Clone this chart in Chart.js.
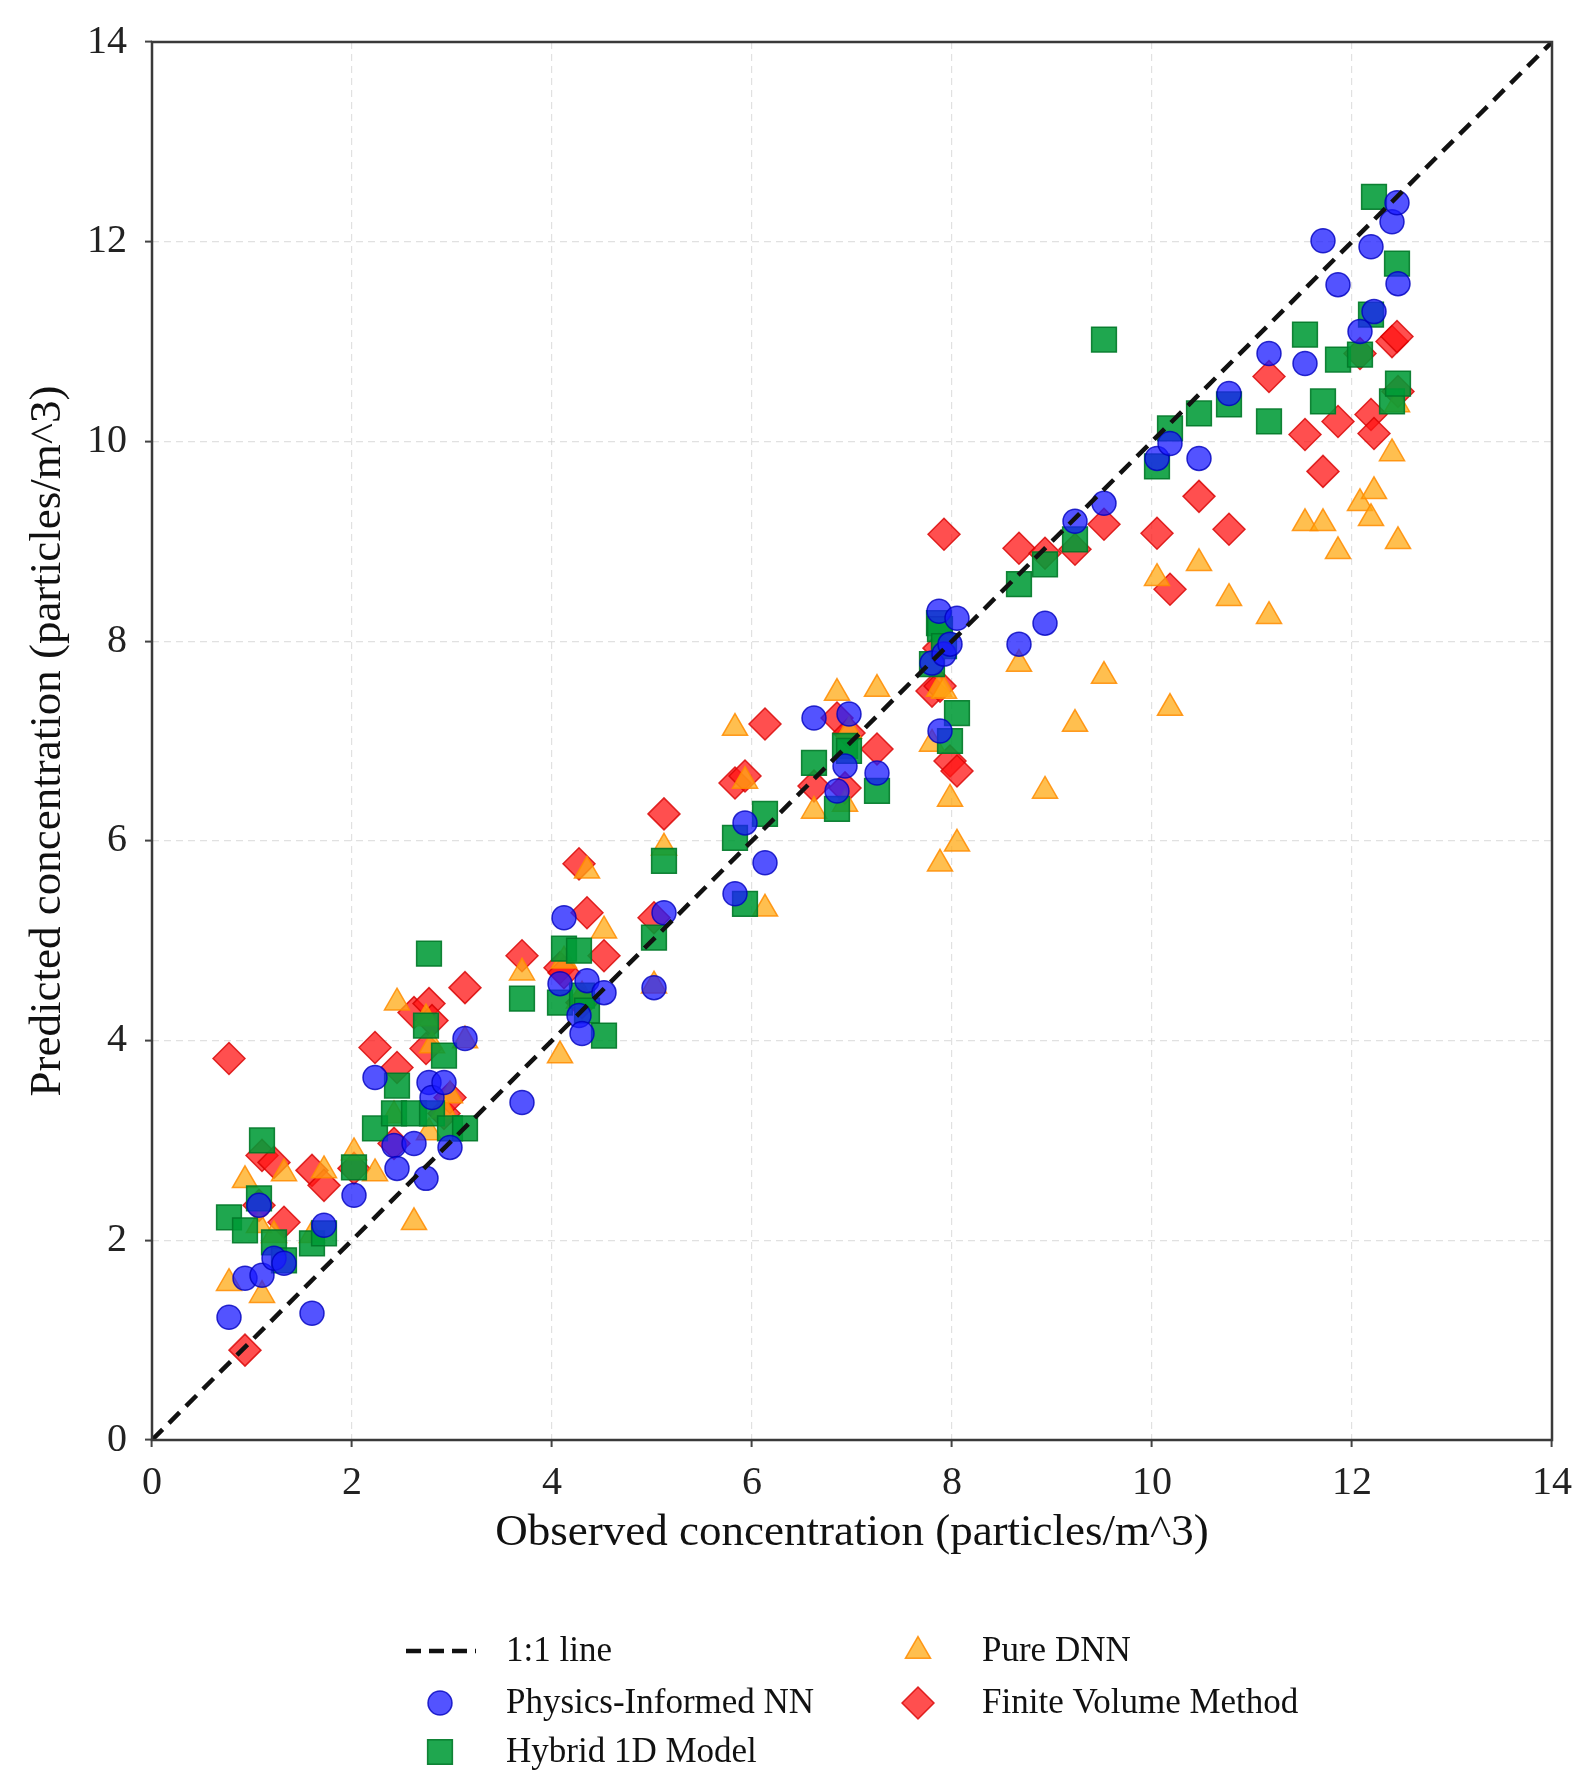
<!DOCTYPE html>
<html>
<head>
<meta charset="utf-8">
<script src="https://cdn.jsdelivr.net/npm/chart.js@4/dist/chart.umd.min.js"></script>
<style>
  html, body { margin: 0; padding: 0; background: #fff; }
  canvas { display: block; }
</style>
</head>
<body>
<canvas id="parity-chart" width="1585" height="1792"></canvas>
<script>
// observed concentration, shared by every model
const observed = [
  0.77, 0.93, 1.07, 1.1, 1.22, 1.32, 1.6, 1.72, 2.02, 2.23,
  2.42, 2.45, 2.62, 2.74, 2.77, 2.8, 2.92, 2.98, 3.13, 3.7,
  4.08, 4.12, 4.27, 4.3, 4.35, 4.52, 5.02, 5.12, 5.83, 5.93,
  6.13, 6.62, 6.85, 6.93, 6.97, 7.25, 7.8, 7.87, 7.88, 7.92,
  7.98, 8.05, 8.67, 8.93, 9.23, 9.52, 10.05, 10.18, 10.47, 10.77,
  11.17, 11.53, 11.71, 11.86, 12.08, 12.19, 12.22, 12.4, 12.45, 12.46,
];

const pinnPred = [
  1.23, 1.62, 2.35, 1.65, 1.82, 1.77, 1.27, 2.15, 2.45, 3.63,
  2.95, 2.72, 2.97, 2.62, 3.58, 3.43, 3.58, 2.93, 4.02, 3.38,
  4.57, 5.23, 4.25, 4.07, 4.6, 4.48, 4.53, 5.28, 5.47, 6.18,
  5.78, 7.23, 6.5, 6.75, 7.27, 6.68, 7.78, 8.3, 7.1, 7.87,
  7.97, 8.23, 7.97, 8.18, 9.2, 9.38, 9.83, 9.98, 9.83, 10.48,
  10.88, 10.78, 12.01, 11.57, 11.1, 11.95, 11.3, 12.2, 12.39, 11.58,
];

const hybridPred = [
  2.23, 2.1, 2.42, 3.0, 1.98, 1.8, 1.97, 2.07, 2.73, 3.12,
  3.27, 3.55, 3.27, 4.15, 4.87, 3.27, 3.85, 3.12, 3.12, 4.42,
  4.38, 4.92, 4.9, 4.45, 4.3, 4.05, 5.03, 5.8, 6.03, 5.37,
  6.27, 6.78, 6.32, 6.95, 6.9, 6.5, 7.77, 8.18, 8.12, 7.95,
  7.0, 7.28, 8.57, 8.77, 9.02, 11.02, 9.75, 10.13, 10.28, 10.37,
  10.2, 11.07, 10.4, 10.82, 10.87, 11.27, 12.45, 10.4, 11.78, 10.58,
];

const dnnPred = [
  1.57, 2.6, 2.15, 1.45, 2.05, 2.67, 2.05, 2.7, 2.88, 2.67,
  3.25, 4.38, 2.18, 4.22, 3.08, 3.95, 3.3, 3.45, 4.0, 4.68,
  3.85, 4.8, 4.4, 4.45, 5.7, 5.1, 4.55, 5.93, 7.13, 6.6,
  5.32, 6.3, 7.48, 6.37, 7.1, 7.52, 6.97, 7.52, 5.77, 7.5,
  6.42, 5.97, 7.77, 6.5, 7.17, 7.65, 8.63, 7.33, 8.78, 8.43,
  8.25, 9.18, 9.18, 8.9, 9.38, 9.23, 9.5, 9.88, 10.37, 9.0,
];

const fvmPred = [
  3.82, 0.9, 2.35, 2.85, 2.78, 2.18, 2.7, 2.55, 2.72, 3.93,
  2.97, 3.73, 4.28, 3.92, 4.37, 4.2, 3.27, 3.43, 4.53, 4.85,
  4.73, 4.68, 5.77, 4.38, 5.28, 4.85, 5.23, 6.27, 6.58, 6.65,
  7.17, 6.55, 7.23, 6.53, 7.08, 6.92, 7.5, 7.93, 7.55, 9.07,
  6.8, 6.7, 8.93, 8.88, 8.92, 9.17, 9.08, 8.52, 9.45, 9.12,
  10.65, 10.07, 9.7, 10.2, 10.88, 10.27, 10.08, 11.0, 11.05, 10.5,
];

const identityEnds = [0, 14];

const FONT = "'Liberation Serif', 'Times New Roman', serif";
const LINE_DASH = [15, 9];

const toPoints = (ys) => observed.map((x, i) => ({ x, y: ys[i] }));

const modelStyles = {
  pinn: {
    label: 'Physics-Informed NN',
    pointStyle: 'circle',
    radius: 12,
    bg: 'rgba(25, 25, 255, 0.75)',
    border: 'rgba(0, 0, 190, 0.8)',
  },
  hybrid: {
    label: 'Hybrid 1D Model',
    pointStyle: 'rect',
    radius: 17.5,
    bg: 'rgba(0, 155, 55, 0.88)',
    border: 'rgba(0, 120, 40, 0.9)',
  },
  dnn: {
    label: 'Pure DNN',
    pointStyle: 'triangle',
    radius: 14.5,
    bg: 'rgba(255, 170, 20, 0.75)',
    border: 'rgba(255, 140, 0, 0.85)',
  },
  fvm: {
    label: 'Finite Volume Method',
    pointStyle: 'rectRot',
    radius: 16,
    bg: 'rgba(255, 20, 20, 0.75)',
    border: 'rgba(215, 0, 0, 0.8)',
  },
};

const scatterSet = (key, values) => {
  const s = modelStyles[key];
  return {
    type: 'scatter',
    label: s.label,
    data: toPoints(values),
    pointStyle: s.pointStyle,
    pointRadius: s.radius,
    pointHoverRadius: s.radius,
    backgroundColor: s.bg,
    borderColor: s.border,
    borderWidth: 1.5,
  };
};

// markers for the custom legend
function drawMarker(ctx, s, x, y) {
  const r = s.radius;
  ctx.save();
  ctx.fillStyle = s.bg;
  ctx.strokeStyle = s.border;
  ctx.lineWidth = 1.5;
  ctx.beginPath();
  if (s.pointStyle === 'circle') {
    ctx.arc(x, y, r, 0, Math.PI * 2);
  } else if (s.pointStyle === 'rect') {
    const h = r * Math.SQRT1_2;
    ctx.rect(x - h, y - h, 2 * h, 2 * h);
  } else if (s.pointStyle === 'triangle') {
    ctx.moveTo(x, y - r);
    ctx.lineTo(x + r * 0.866, y + r / 2);
    ctx.lineTo(x - r * 0.866, y + r / 2);
    ctx.closePath();
  } else {
    ctx.moveTo(x - r, y);
    ctx.lineTo(x, y - r);
    ctx.lineTo(x + r, y);
    ctx.lineTo(x, y + r);
    ctx.closePath();
  }
  ctx.fill();
  ctx.stroke();
  ctx.restore();
}

const framePlugin = {
  id: 'frame',
  afterDraw(chart) {
    const { ctx, chartArea: a } = chart;
    ctx.save();
    ctx.strokeStyle = '#3a3a3a';
    ctx.lineWidth = 2.5;
    ctx.strokeRect(a.left, a.top, a.right - a.left, a.bottom - a.top);
    ctx.restore();
  },
};

const legendPlugin = {
  id: 'columnLegend',
  afterDraw(chart) {
    const ctx = chart.ctx;
    const rows = [1651, 1703, 1752];
    const markerX = [440, 918];
    const textX = [506, 982];
    const items = [
      { col: 0, row: 0, label: '1:1 line', line: true },
      { col: 0, row: 1, style: modelStyles.pinn },
      { col: 0, row: 2, style: modelStyles.hybrid },
      { col: 1, row: 0, style: modelStyles.dnn },
      { col: 1, row: 1, style: modelStyles.fvm },
    ];
    ctx.save();
    ctx.font = `35px ${FONT}`;
    ctx.textBaseline = 'middle';
    ctx.fillStyle = '#111';
    for (const it of items) {
      const y = rows[it.row];
      const mx = markerX[it.col];
      if (it.line) {
        ctx.save();
        ctx.strokeStyle = '#111';
        ctx.lineWidth = 4.5;
        ctx.setLineDash([15, 8]);
        ctx.beginPath();
        ctx.moveTo(mx - 34, y);
        ctx.lineTo(mx + 36, y);
        ctx.stroke();
        ctx.restore();
      } else {
        drawMarker(ctx, it.style, mx, y);
      }
      ctx.fillText(it.label || it.style.label, textX[it.col], y + 1);
    }
    ctx.restore();
  },
};

const axisCommon = {
  min: 0,
  max: 14,
  border: { display: false, dash: [7, 5] },
  grid: {
    color: 'rgba(200, 200, 200, 0.55)',
    lineWidth: 1.2,
    tickLength: 7,
    tickColor: '#444',
    tickWidth: 2,
    tickBorderDash: [],
  },
};

new Chart(document.getElementById('parity-chart'), {
  type: 'scatter',
  data: {
    datasets: [
      {
        type: 'line',
        label: '1:1 line',
        data: identityEnds.map((v) => ({ x: v, y: v })),
        borderColor: '#111',
        borderWidth: 4.5,
        borderDash: LINE_DASH,
        pointRadius: 0,
        fill: false,
      },
      scatterSet('pinn', pinnPred),
      scatterSet('hybrid', hybridPred),
      scatterSet('dnn', dnnPred),
      scatterSet('fvm', fvmPred),
    ],
  },
  options: {
    responsive: false,
    animation: false,
    devicePixelRatio: 1,
    layout: { padding: { left: 0, right: 33, top: 40, bottom: 232 } },
    plugins: {
      legend: { display: false },
      tooltip: { enabled: false },
    },
    scales: {
      x: {
        ...axisCommon,
        type: 'linear',
        ticks: { stepSize: 2, padding: 12, color: '#222', font: { family: FONT, size: 40 } },
        title: {
          display: true,
          text: 'Observed concentration (particles/m^3)',
          color: '#111',
          font: { family: FONT, size: 45 },
          padding: { top: 0, bottom: 0 },
        },
        afterFit: (scale) => { scale.height = 120; },
      },
      y: {
        ...axisCommon,
        type: 'linear',
        ticks: { stepSize: 2, padding: 18, color: '#222', font: { family: FONT, size: 40 } },
        title: {
          display: true,
          text: 'Predicted concentration (particles/m^3)',
          color: '#111',
          font: { family: FONT, size: 45 },
          padding: { top: 21, bottom: 0 },
        },
        afterFit: (scale) => { scale.width = 152; },
      },
    },
  },
  plugins: [framePlugin, legendPlugin],
});
</script>
</body>
</html>
